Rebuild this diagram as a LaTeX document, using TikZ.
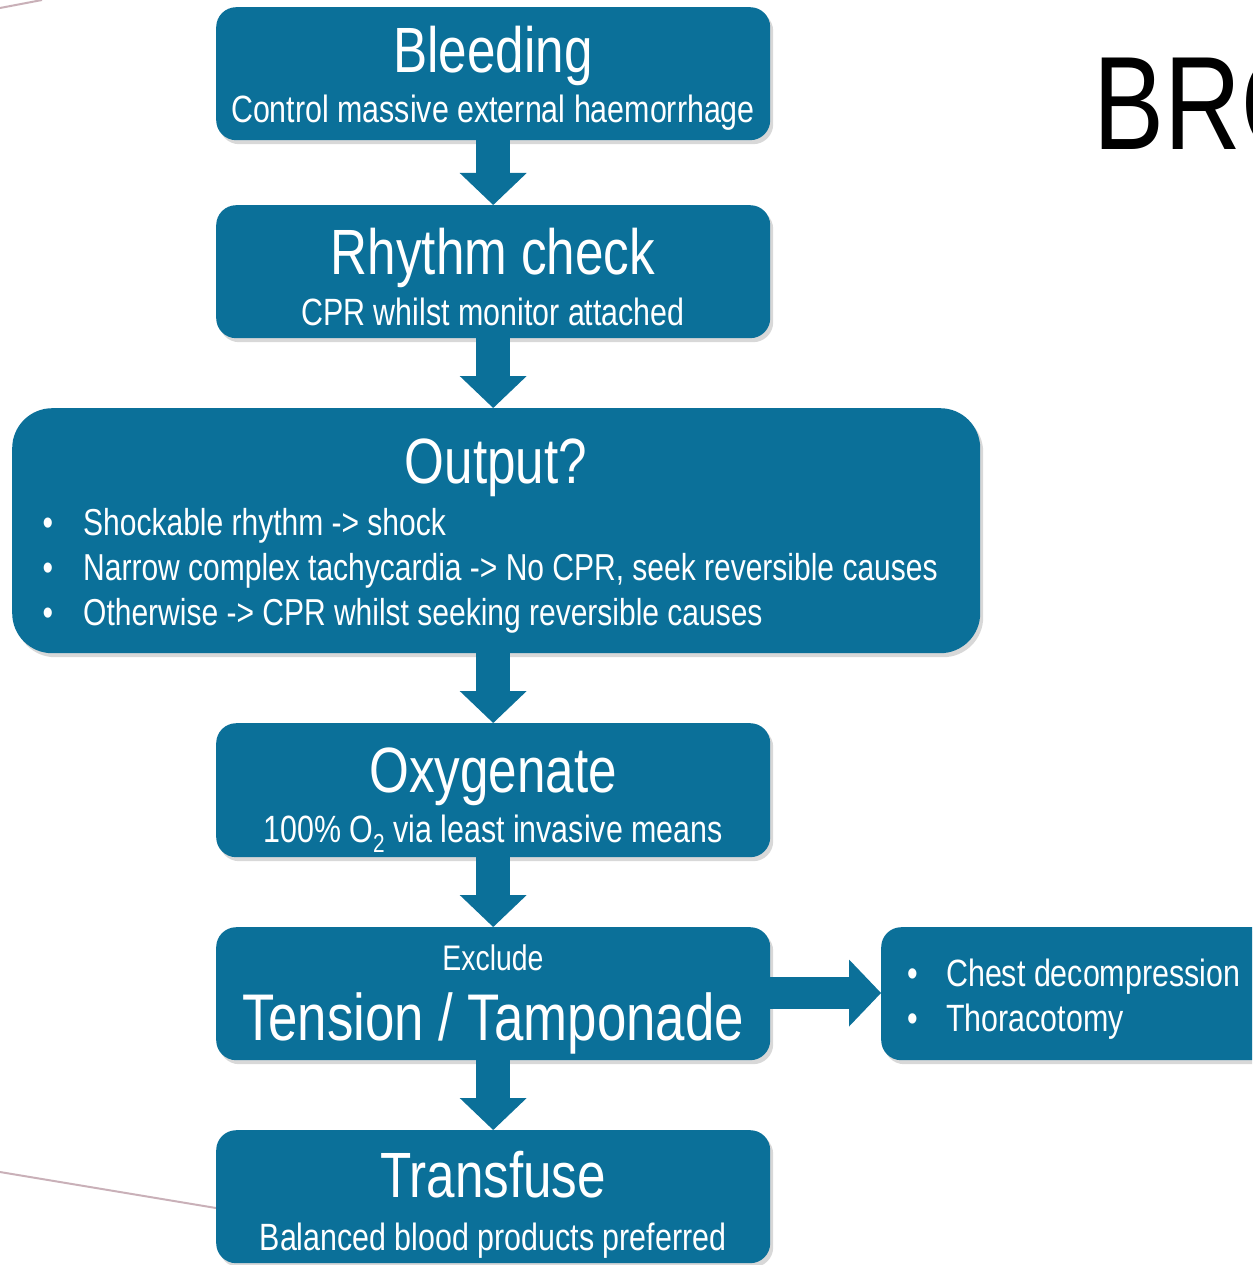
\documentclass[tikz,border=0pt]{standalone}
\usepackage{fontspec}
\setmainfont{Liberation Sans}[FakeStretch=0.8]
\usetikzlibrary{arrows.meta,shadows}
\definecolor{boxblue}{RGB}{11,112,153}
\definecolor{decoline}{RGB}{201,176,184}
\newcommand\fttl{\fontsize{64}{64}\selectfont}
\newcommand\fttlb{\fontsize{66}{66}\selectfont}
\newcommand\fsubt{\fontsize{38}{38}\selectfont}
\newcommand\fbul{\fontsize{37.5}{37.5}\selectfont}
\newcommand\fexcl{\fontsize{35.5}{35.5}\selectfont}
\newcommand\fhuge{\fontsize{133}{133}\selectfont}
\begin{document}
\begin{tikzpicture}[x=1pt,y=-1pt,
  box/.style={fill=boxblue, draw=none, rounded corners=20pt, inner sep=0pt,
    drop shadow={shadow xshift=3pt, shadow yshift=-4pt, opacity=0.3}},
  txt/.style={text=white, inner sep=0pt, anchor=base},
  ltxt/.style={text=white, inner sep=0pt, anchor=base west},
  flow/.style={draw=boxblue, line width=34pt,
    -{Triangle[width=67pt, length=32pt, line width=0pt]}},
  deco/.style={draw=decoline, line width=2pt}
]
\useasboundingbox (0,0) rectangle (1252,1265);
\clip (0,0) rectangle (1252,1265);
\fill[white] (0,0) rectangle (1252,1265);

% decorative lines
\coordinate (d1a) at (0,8);
\coordinate (d1b) at (42,0);
\coordinate (d2a) at (0,1172);
\coordinate (d2b) at (216,1208);
\draw[deco] (d1a) -- (d1b);
\draw[deco] (d2a) -- (d2b);

% heading (clipped at the right edge, as in the reference)
\node[inner sep=0pt, anchor=base west, text=black] (head) at (1093,150) {\fhuge BRO};

% boxes
\node[box, minimum width=554pt, minimum height=133pt, anchor=north west] (bleed) at (216,7) {};
\node[box, minimum width=554pt, minimum height=133pt, anchor=north west] (rhythm) at (216,205) {};
\node[box, rounded corners=40pt, minimum width=968pt, minimum height=245pt, anchor=north west] (output) at (12,408) {};
\node[box, minimum width=554pt, minimum height=134pt, anchor=north west] (oxy) at (216,723) {};
\node[box, minimum width=554pt, minimum height=133pt, anchor=north west] (tension) at (216,927) {};
\node[box, minimum width=554pt, minimum height=133pt, anchor=north west] (transf) at (216,1130) {};
\node[box, minimum width=420pt, minimum height=133pt, anchor=north west] (remedy) at (881,927) {};

% connectors
\draw[flow] (bleed.south) -- (rhythm.north);
\draw[flow] (rhythm.south) -- (output.north -| rhythm.north);
\draw[flow] (output.south -| oxy.north) -- (oxy.north);
\draw[flow] (oxy.south) -- (tension.north);
\draw[flow] (tension.south) -- (transf.north);
\draw[flow, line width=32pt] (tension.east |- 0,993) -- (remedy.west |- 0,993);

% texts
\node[txt] (t1) at (493,73) {\fttl Bleeding};
\node[txt] (s1) at (493,123) {\fsubt Control massive external haemorrhage};

\node[txt] (t2) at (493,274) {\fttl Rhythm check};
\node[txt] (s2) at (493,325) {\fsubt CPR whilst monitor attached};

\node[txt] (t3) at (496,483) {\fttl Output?};
\node[txt] (b31) at (48,535) {\fbul •};
\node[ltxt] (l31) at (83,535) {\fbul Shockable rhythm -> shock};
\node[txt] (b32) at (48,580) {\fbul •};
\node[ltxt] (l32) at (83,580) {\fbul Narrow complex tachycardia -> No CPR, seek reversible causes};
\node[txt] (b33) at (48,625) {\fbul •};
\node[ltxt] (l33) at (83,625) {\fbul Otherwise -> CPR whilst seeking reversible causes};

\node[txt] (t4) at (493,792) {\fttl Oxygenate};
\node[txt] (s4) at (493,842) {\fsubt 100\% O\raisebox{-0.28em}{\fontsize{26}{26}\selectfont 2} via least invasive means};

\node[txt] (e5) at (493,970) {\fexcl Exclude};
\node[txt] (t5) at (493,1040) {\fttlb Tension / Tamponade};

\node[txt] (t6) at (493,1197) {\fttl Transfuse};
\node[txt] (s6) at (493,1250) {\fsubt Balanced blood products preferred};

\node[txt] (b71) at (913,986) {\fsubt •};
\node[ltxt] (l71) at (946,986) {\fsubt Chest decompression};
\node[txt] (b72) at (913,1031) {\fsubt •};
\node[ltxt] (l72) at (946,1031) {\fsubt Thoracotomy};
\end{tikzpicture}
\end{document}
